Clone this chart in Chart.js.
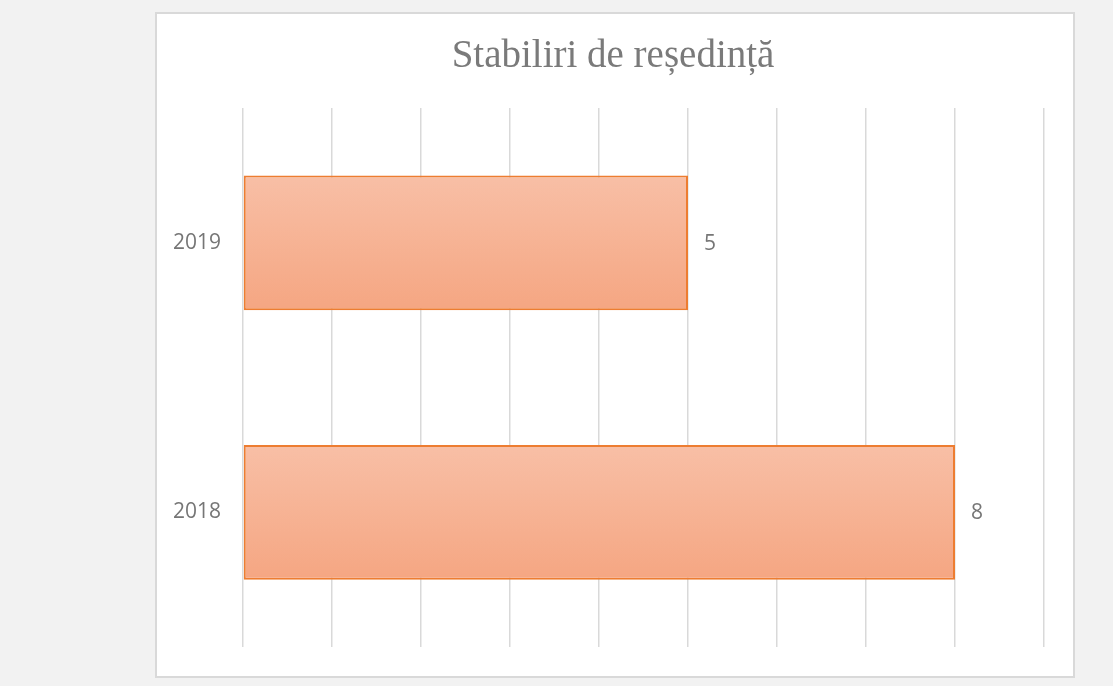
<!DOCTYPE html>
<html>
<head>
<meta charset="utf-8">
<script src="https://cdn.jsdelivr.net/npm/chart.js@4"></script>
<style>
  html, body { margin: 0; padding: 0; background: #f2f2f2; }
  #panel {
    position: absolute; left: 155px; top: 12px; width: 920px; height: 666px;
    box-sizing: border-box; border: 2px solid #d9d9d9; background: #ffffff;
  }
  #chart { display: block; }
</style>
</head>
<body>
<div id="panel"><canvas id="chart" width="916" height="662"></canvas></div>
<script>
const years = ["2019", "2018"];
const stabiliri = [5, 8];
const titleText = "Stabiliri de reședință";

// per-bar vertical gradient, like the Office fill
function barFill(ctx) {
    const chart = ctx.chart;
    if (!chart.chartArea) return "#f5b090";
    const y = chart.scales.y;
    const c = y.getPixelForValue(ctx.dataIndex);
    const half = Math.abs(y.getPixelForValue(1) - y.getPixelForValue(0)) * 0.25;
    const g = chart.ctx.createLinearGradient(0, c - half, 0, c + half);
    g.addColorStop(0, "#f8bfa6");
    g.addColorStop(1, "#f5a682");
    return g;
}

// title centred on the whole panel, not on the padded layout box
const panelTitle = {
    id: "panelTitle",
    afterDraw(chart) {
        const ctx = chart.ctx;
        ctx.save();
        ctx.font = "39px 'Liberation Serif', 'DejaVu Serif', serif";
        ctx.fillStyle = "#7a7a7a";
        ctx.textAlign = "center";
        ctx.textBaseline = "alphabetic";
        ctx.fillText(titleText, chart.width / 2 - 2, 53);
        ctx.restore();
    }
};

const valueLabels = {
    id: "valueLabels",
    afterDatasetsDraw(chart) {
        const ctx = chart.ctx;
        const meta = chart.getDatasetMeta(0);
        ctx.save();
        ctx.font = "21px 'Open Sans', sans-serif";
        ctx.fillStyle = "#767676";
        ctx.textAlign = "left";
        ctx.textBaseline = "middle";
        meta.data.forEach((bar, i) => {
            ctx.fillText(String(stabiliri[i]), bar.x + 16, bar.y + 1);
        });
        ctx.restore();
    }
};

new Chart(document.getElementById("chart"), {
    type: "bar",
    data: {
        labels: years,
        datasets: [{
            label: titleText,
            data: stabiliri,
            backgroundColor: barFill,
            borderColor: "#ed7d31",
            borderWidth: 2,
            borderSkipped: false,
            categoryPercentage: 1,
            barPercentage: 0.5
        }]
    },
    options: {
        indexAxis: "y",
        responsive: false,
        animation: false,
        layout: { padding: { left: 0, right: 29, top: 94, bottom: 29 } },
        plugins: {
            legend: { display: false },
            tooltip: { enabled: false },
            title: { display: false }
        },
        scales: {
            x: {
                min: 0, max: 9,
                ticks: { display: false, stepSize: 1 },
                grid: { color: "#d9d9d9", lineWidth: 1.5, drawTicks: false },
                border: { display: false },
                afterFit(scale) { scale.height = 0; }
            },
            y: {
                // gap between labels and bars comes from an invisible tick length
                grid: { display: false, drawTicks: true, tickLength: 19 },
                border: { display: false },
                ticks: {
                    color: "#767676",
                    padding: 3,
                    font: { family: "'Open Sans', sans-serif", size: 21 }
                },
                afterFit(scale) { scale.width = 86; }
            }
        }
    },
    plugins: [valueLabels, panelTitle]
});
</script>
</body>
</html>
